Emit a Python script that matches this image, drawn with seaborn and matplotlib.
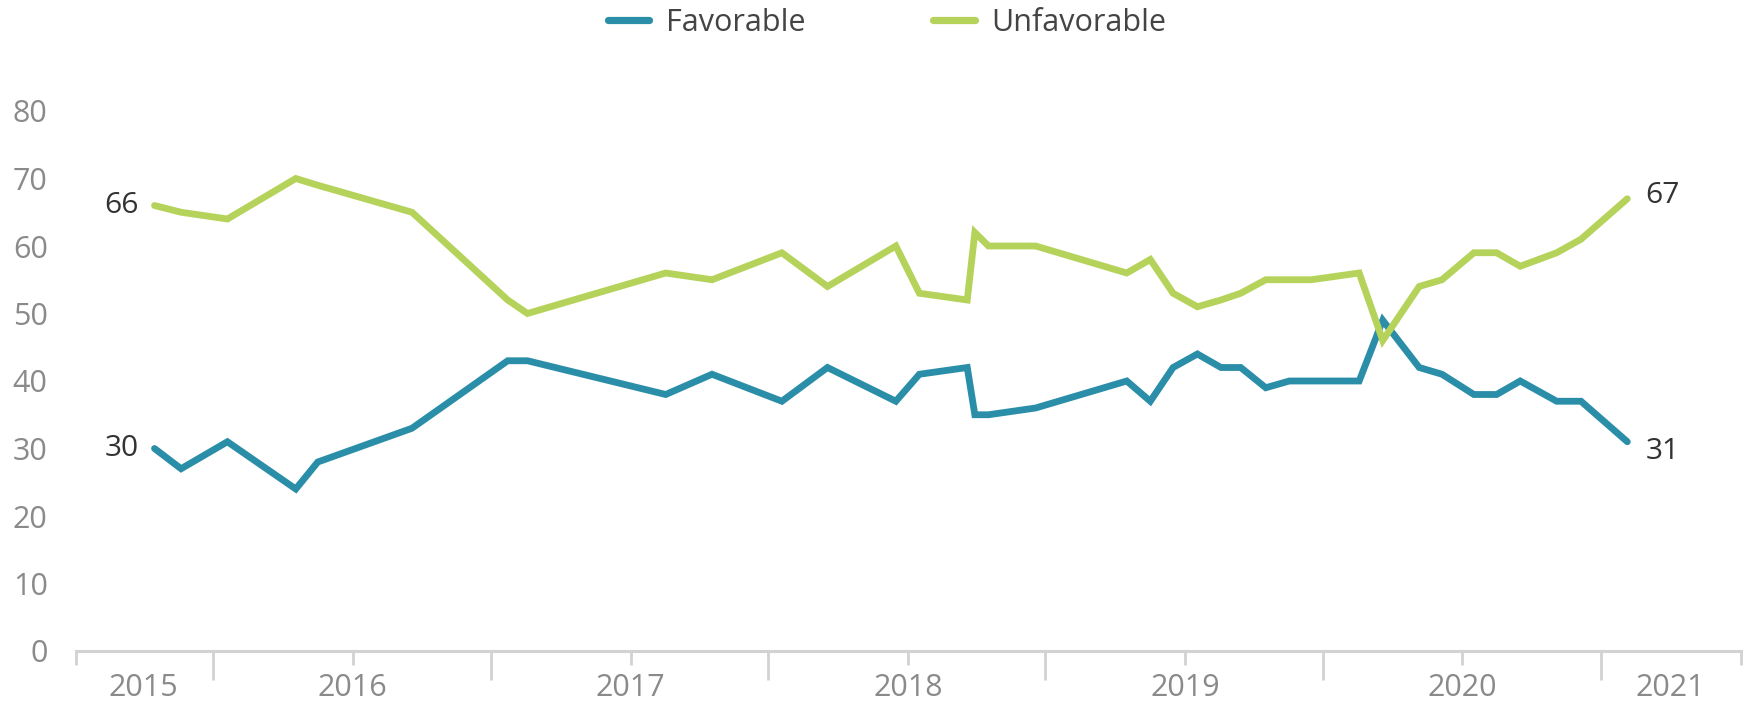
import matplotlib
matplotlib.use("Agg")
import matplotlib.pyplot as plt
import matplotlib.dates as mdates
import pandas as pd
import seaborn as sns

# Poll dates (mid-month of each survey) and shares in percent
poll_dates = [
    "2015-04-15", "2015-05-20", "2015-07-20", "2015-10-18", "2015-11-16",
    "2016-03-19", "2016-07-23", "2016-08-18", "2017-02-16", "2017-04-18",
    "2017-07-19", "2017-09-17", "2017-12-16", "2018-01-16", "2018-03-20",
    "2018-03-30", "2018-04-17", "2018-06-18", "2018-10-16", "2018-11-16",
    "2018-12-16", "2019-01-17", "2019-02-17", "2019-03-15", "2019-04-17",
    "2019-05-18", "2019-06-16", "2019-08-18", "2019-09-18", "2019-11-05",
    "2019-12-05", "2020-01-16", "2020-02-15", "2020-03-17", "2020-05-04",
    "2020-06-05", "2020-08-05",
]
favorable = [30, 27, 31, 24, 28, 33, 43, 43, 38, 41, 37, 42, 37, 41, 42,
             35, 35, 36, 40, 37, 42, 44, 42, 42, 39, 40, 40, 40, 49, 42,
             41, 38, 38, 40, 37, 37, 31]
unfavorable = [66, 65, 64, 70, 69, 65, 52, 50, 56, 55, 59, 54, 60, 53, 52,
               62, 60, 60, 56, 58, 53, 51, 52, 53, 55, 55, 55, 56, 46, 54,
               55, 59, 59, 57, 59, 61, 67]

series_names = ["Favorable", "Unfavorable"]
year_labels = ["2015", "2016", "2017", "2018", "2019", "2020", "2021"]
y_ticks = [0, 10, 20, 30, 40, 50, 60, 70, 80]

colors = {"Favorable": "#2b8ea8", "Unfavorable": "#b5d35a"}
TICK_GREY = "#8a8a8a"
AXIS_GREY = "#d2d2d2"
LABEL_DARK = "#333333"

dates = pd.to_datetime(poll_dates)
df = pd.concat([
    pd.DataFrame({"date": dates, "value": favorable, "series": series_names[0]}),
    pd.DataFrame({"date": dates, "value": unfavorable, "series": series_names[1]}),
], ignore_index=True)

sns.set_theme(style="white")
plt.rcParams["font.family"] = ["Open Sans", "DejaVu Sans"]

W, H = 1746, 702
fig = plt.figure(figsize=(W / 100, H / 100), dpi=100)
ax = fig.add_axes([75.5 / W, (H - 651) / H, 1665 / W, (651 - 111) / H])

sns.lineplot(data=df, x="date", y="value", hue="series", hue_order=series_names,
             palette=colors, linewidth=4.9, estimator=None, sort=False, ax=ax,
             solid_capstyle="round", solid_joinstyle="miter")

x_start = pd.Timestamp("2015-01-01")
x_end = pd.Timestamp("2021-01-01")
ax.set_xlim(x_start, x_end)
ax.set_ylim(0, 80)
ax.set_xlabel("")
ax.set_ylabel("")

# y axis: labels only
ax.set_yticks(y_ticks)
ax.set_yticklabels([str(v) for v in y_ticks])
ax.tick_params(axis="y", length=0, pad=20, labelsize=22, labelcolor=TICK_GREY)

# x axis: short ticks at each new year, long ticks at mid-year
jan_ticks = pd.to_datetime([f"{y}-01-01" for y in year_labels])
jul_ticks = pd.to_datetime([f"{y}-07-01" for y in year_labels[:-1]])
ax.set_xticks(jan_ticks)
ax.set_xticks(jul_ticks, minor=True)
ax.set_xticklabels([])
ax.tick_params(axis="x", which="major", length=10, width=2, color=AXIS_GREY, direction="out")
ax.tick_params(axis="x", which="minor", length=21, width=2, color=AXIS_GREY, direction="out")
ax.tick_params(axis="x", which="both", bottom=True)

for side in ("left", "top", "right"):
    ax.spines[side].set_visible(False)
ax.spines["bottom"].set_color(AXIS_GREY)
ax.spines["bottom"].set_linewidth(2.2)
ax.grid(False)

# Year labels: inner years sit on their new-year tick, the end years
# are centred in the half-year spans at either edge
label_pos = [pd.Timestamp("2015-04-01")] + list(jan_ticks[1:-1]) + [pd.Timestamp("2020-10-01")]
for pos, lab in zip(label_pos, year_labels):
    ax.annotate(lab, xy=(mdates.date2num(pos), 0), xycoords="data",
                xytext=(0, -26.5), textcoords="offset points",
                ha="center", va="center", fontsize=22, color=TICK_GREY,
                annotation_clip=False)

# End-point value labels
first, last = dates[0], dates[-1]
ax.annotate(str(unfavorable[0]), xy=(first, unfavorable[0]), xytext=(-11, 0),
            textcoords="offset points", ha="right", va="center",
            fontsize=21.5, color=LABEL_DARK)
ax.annotate(str(favorable[0]), xy=(first, favorable[0]), xytext=(-11, 0),
            textcoords="offset points", ha="right", va="center",
            fontsize=21.5, color=LABEL_DARK)
ax.annotate(str(unfavorable[-1]), xy=(last, unfavorable[-1]), xytext=(13, 2),
            textcoords="offset points", ha="left", va="center",
            fontsize=21.5, color=LABEL_DARK)
ax.annotate(str(favorable[-1]), xy=(last, favorable[-1]), xytext=(13, -7),
            textcoords="offset points", ha="left", va="center",
            fontsize=21.5, color=LABEL_DARK)

# Legend across the top
sns.move_legend(ax, "center", bbox_to_anchor=(887 / W, (H - 23) / H),
                bbox_transform=fig.transFigure, ncol=2, frameon=False,
                title=None, fontsize=22, handlelength=1.35,
                handletextpad=0.55, columnspacing=4.2)
leg = ax.get_legend()
for h in leg.legend_handles:
    h.set_linewidth(5.2)
    h.set_solid_capstyle("round")
for t in leg.get_texts():
    t.set_color("#444444")

fig.savefig("out.png", dpi=100)
